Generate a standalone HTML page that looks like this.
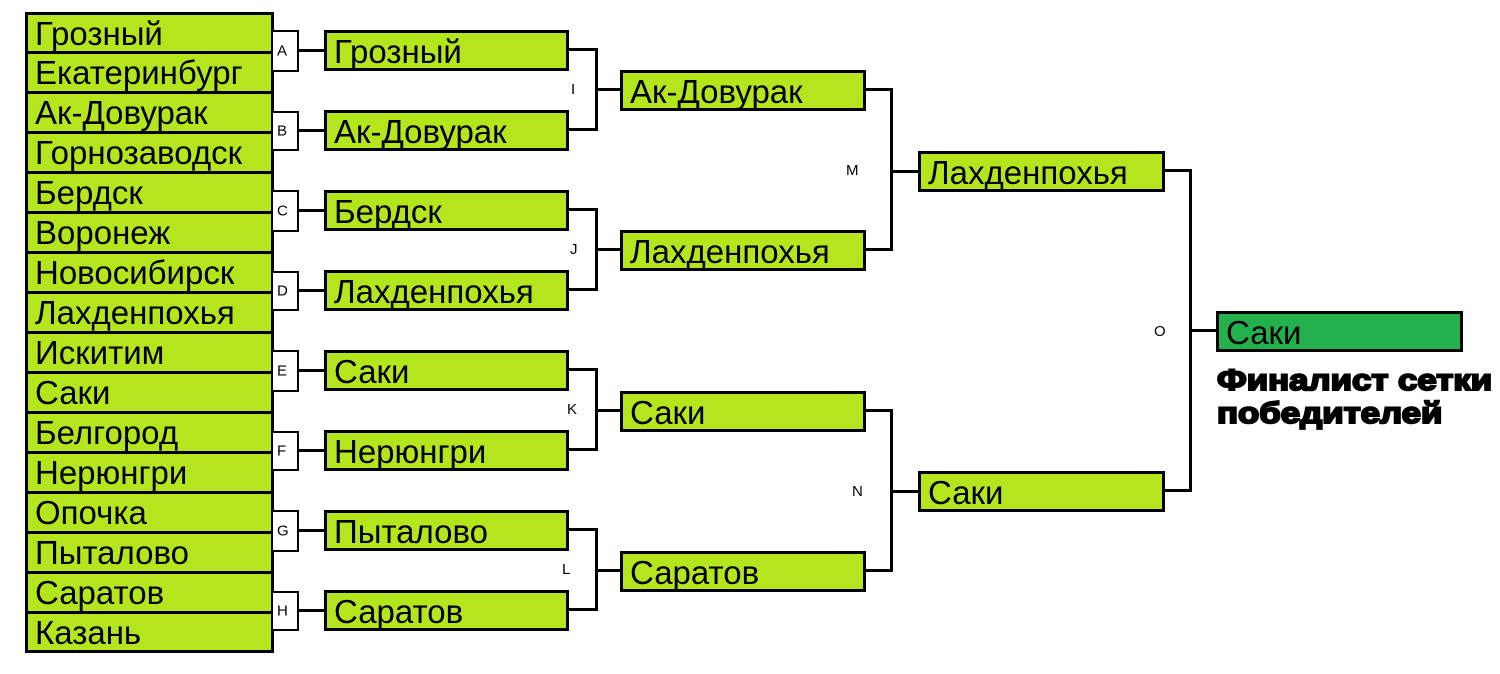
<!DOCTYPE html>
<html><head><meta charset="utf-8"><style>
body{margin:0;width:1500px;height:674px;background:#fff;position:relative;overflow:hidden;font-family:"Liberation Sans","DejaVu Sans",sans-serif}
.b{position:absolute;background:#b5e61d;border:3px solid #000;box-sizing:border-box;font-size:33px;line-height:37px;padding-left:7px;white-space:nowrap;color:#000;overflow:visible}
.l{position:absolute;background:#fff;border:2px solid #000;border-left:none;box-sizing:border-box;width:26px;font-size:15px}
.l span{position:absolute;left:4px;top:50%;transform:translateY(-50%)}
.t{position:absolute;font-size:15px}
.h{position:absolute;height:3px;background:#000}
.v{position:absolute;width:3px;background:#000}
</style></head><body>
<div class="b" style="left:25px;top:12px;width:249px;height:42px">Грозный</div>
<div class="b" style="left:25px;top:51px;width:249px;height:43px">Екатеринбург</div>
<div class="b" style="left:25px;top:91px;width:249px;height:43px">Ак-Довурак</div>
<div class="b" style="left:25px;top:131px;width:249px;height:43px">Горнозаводск</div>
<div class="b" style="left:25px;top:171px;width:249px;height:43px">Бердск</div>
<div class="b" style="left:25px;top:211px;width:249px;height:43px">Воронеж</div>
<div class="b" style="left:25px;top:251px;width:249px;height:43px">Новосибирск</div>
<div class="b" style="left:25px;top:291px;width:249px;height:43px">Лахденпохья</div>
<div class="b" style="left:25px;top:331px;width:249px;height:43px">Искитим</div>
<div class="b" style="left:25px;top:371px;width:249px;height:43px">Саки</div>
<div class="b" style="left:25px;top:411px;width:249px;height:43px">Белгород</div>
<div class="b" style="left:25px;top:451px;width:249px;height:43px">Нерюнгри</div>
<div class="b" style="left:25px;top:491px;width:249px;height:43px">Опочка</div>
<div class="b" style="left:25px;top:531px;width:249px;height:43px">Пыталово</div>
<div class="b" style="left:25px;top:571px;width:249px;height:43px">Саратов</div>
<div class="b" style="left:25px;top:611px;width:249px;height:42px">Казань</div>
<div class="l" style="left:273px;top:30px;height:42px"><span>A</span></div>
<div class="l" style="left:273px;top:111px;height:40px"><span>B</span></div>
<div class="l" style="left:273px;top:190px;height:42px"><span>C</span></div>
<div class="l" style="left:273px;top:271px;height:40px"><span>D</span></div>
<div class="l" style="left:273px;top:350px;height:42px"><span>E</span></div>
<div class="l" style="left:273px;top:431px;height:40px"><span>F</span></div>
<div class="l" style="left:273px;top:510px;height:42px"><span>G</span></div>
<div class="l" style="left:273px;top:591px;height:40px"><span>H</span></div>
<div class="h" style="left:298px;top:49px;width:28px"></div>
<div class="h" style="left:298px;top:129px;width:28px"></div>
<div class="h" style="left:298px;top:209px;width:28px"></div>
<div class="h" style="left:298px;top:289px;width:28px"></div>
<div class="h" style="left:298px;top:369px;width:28px"></div>
<div class="h" style="left:298px;top:449px;width:28px"></div>
<div class="h" style="left:298px;top:529px;width:28px"></div>
<div class="h" style="left:298px;top:609px;width:28px"></div>
<div class="b" style="left:324px;top:30px;width:245px;height:41px">Грозный</div>
<div class="b" style="left:324px;top:110px;width:245px;height:41px">Ак-Довурак</div>
<div class="b" style="left:324px;top:190px;width:245px;height:41px">Бердск</div>
<div class="b" style="left:324px;top:270px;width:245px;height:41px">Лахденпохья</div>
<div class="b" style="left:324px;top:350px;width:245px;height:41px">Саки</div>
<div class="b" style="left:324px;top:430px;width:245px;height:41px">Нерюнгри</div>
<div class="b" style="left:324px;top:510px;width:245px;height:41px">Пыталово</div>
<div class="b" style="left:324px;top:590px;width:245px;height:41px">Саратов</div>
<div class="h" style="left:568px;top:48px;width:30px"></div><div class="h" style="left:568px;top:128px;width:30px"></div><div class="v" style="left:595px;top:48px;height:83px"></div><div class="h" style="left:595px;top:88px;width:28px"></div>
<div class="h" style="left:568px;top:208px;width:30px"></div><div class="h" style="left:568px;top:288px;width:30px"></div><div class="v" style="left:595px;top:208px;height:83px"></div><div class="h" style="left:595px;top:248px;width:28px"></div>
<div class="h" style="left:568px;top:368px;width:30px"></div><div class="h" style="left:568px;top:448px;width:30px"></div><div class="v" style="left:595px;top:368px;height:83px"></div><div class="h" style="left:595px;top:409px;width:28px"></div>
<div class="h" style="left:568px;top:528px;width:30px"></div><div class="h" style="left:568px;top:608px;width:30px"></div><div class="v" style="left:595px;top:528px;height:83px"></div><div class="h" style="left:595px;top:569px;width:28px"></div>
<div class="t" style="left:571px;top:81px">I</div>
<div class="t" style="left:570px;top:241px">J</div>
<div class="t" style="left:567px;top:401px">K</div>
<div class="t" style="left:562px;top:561px">L</div>
<div class="b" style="left:620px;top:70px;width:246px;height:41px">Ак-Довурак</div>
<div class="b" style="left:620px;top:230px;width:246px;height:41px">Лахденпохья</div>
<div class="b" style="left:620px;top:391px;width:246px;height:41px">Саки</div>
<div class="b" style="left:620px;top:551px;width:246px;height:41px">Саратов</div>
<div class="h" style="left:865px;top:88px;width:28px"></div><div class="h" style="left:865px;top:248px;width:28px"></div><div class="v" style="left:890px;top:88px;height:163px"></div><div class="h" style="left:890px;top:170px;width:30px"></div>
<div class="h" style="left:865px;top:409px;width:28px"></div><div class="h" style="left:865px;top:569px;width:28px"></div><div class="v" style="left:890px;top:409px;height:163px"></div><div class="h" style="left:890px;top:490px;width:30px"></div>
<div class="t" style="left:846px;top:162px">M</div>
<div class="t" style="left:852px;top:483px">N</div>
<div class="b" style="left:918px;top:151px;width:247px;height:41px">Лахденпохья</div>
<div class="b" style="left:918px;top:471px;width:247px;height:41px">Саки</div>
<div class="h" style="left:1164px;top:169px;width:28px"></div><div class="h" style="left:1164px;top:489px;width:28px"></div><div class="v" style="left:1189px;top:169px;height:323px"></div><div class="h" style="left:1189px;top:329px;width:30px"></div>
<div class="t" style="left:1154px;top:323px">O</div>
<div class="b" style="left:1216px;top:311px;width:247px;height:41px;background:#22b14c">Саки</div>
<div style="position:absolute;left:1217px;top:364px;font-size:30px;line-height:33px;font-weight:bold;-webkit-text-stroke:2px #000;color:#000;transform:scaleX(1.16);transform-origin:left;white-space:nowrap">Финалист сетки<br>победителей</div>
</body></html>
